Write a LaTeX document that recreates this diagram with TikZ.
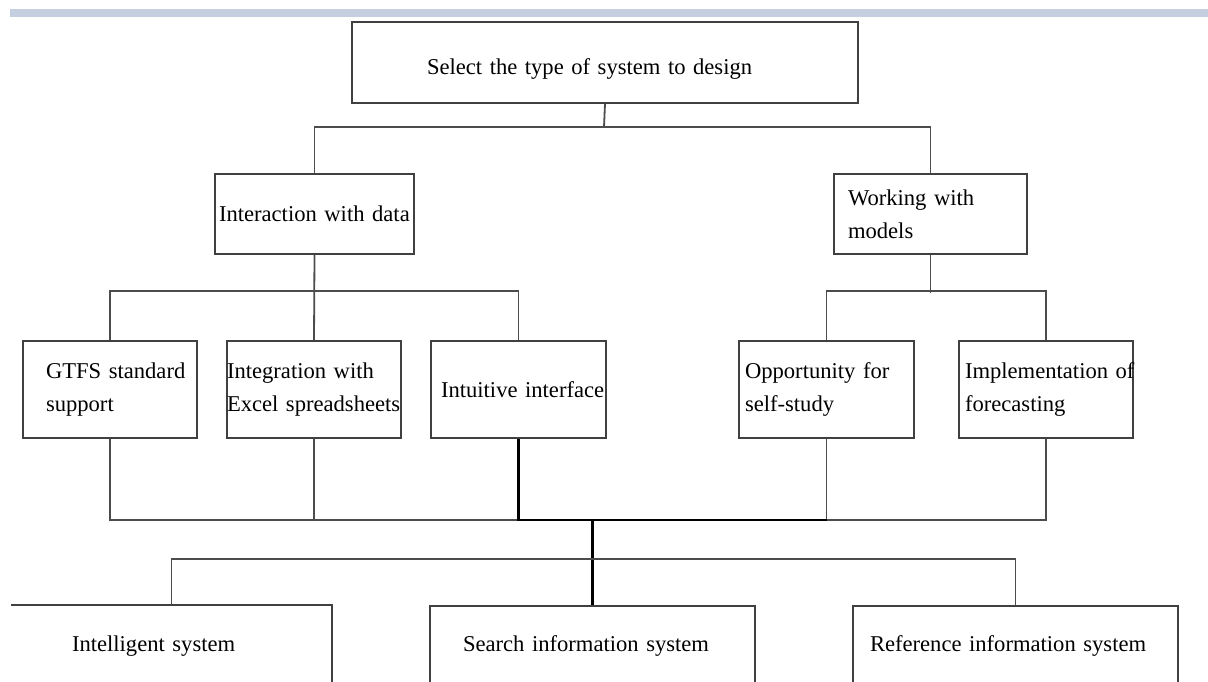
\documentclass[tikz,border=0pt]{standalone}
\usepackage{fontspec}
\setmainfont{Liberation Serif}
\usetikzlibrary{positioning}
\definecolor{bandblue}{RGB}{197,207,224}
\hyphenpenalty=10000
\exhyphenpenalty=10000

\begin{document}
\begin{tikzpicture}[x=1pt, y=-1pt,
  every node/.style={font=\fontsize{22.6}{33}\selectfont},
  boxline/.style={draw=black!75, line width=2pt},
  sysbox/.style={boxline, align=left, inner ysep=0pt, anchor=north west},
  link/.style={draw=black!70, line width=1.8pt},
  mainlink/.style={draw=black, line width=2.8pt}]
\useasboundingbox (0,0) rectangle (1208,681);
\clip (0,0) rectangle (1208,681);
\fill[bandblue] (10,9) rectangle (1208,17);
\node[sysbox, text width=356pt, inner xsep=75pt, minimum height=81pt] (sel) at (351,21) {\rule{0pt}{28pt}Select the type of system to design};
\node[sysbox, text width=191pt, inner xsep=4pt, minimum height=80pt] (inter) at (214,173) {Interaction~with~data};
\node[sysbox, text width=165pt, inner xsep=14pt, minimum height=80pt] (work) at (833,173) {Working~with\\models};
\node[sysbox, text width=128pt, inner xsep=23pt, minimum height=97pt] (gtfs) at (22,340) {GTFS~standard\\support};
\node[sysbox, text width=174pt, inner xsep=0pt, minimum height=97pt] (integ) at (226,340) {Integration~with\\Excel~spreadsheets};
\node[sysbox, text width=155pt, inner xsep=10pt, minimum height=97pt] (intui) at (430,340) {Intuitive~interface};
\node[sysbox, text width=163pt, inner xsep=6pt, minimum height=97pt] (oppo) at (738,340) {Opportunity~for\\self-study};
\node[sysbox, text width=162pt, inner xsep=6pt, minimum height=97pt] (impl) at (958,340) {Implementation~of\\forecasting};
\node[sysbox, draw=none, text width=199pt, inner xsep=60pt, minimum height=80pt] (intel) at (11,605) {Intelligent~system};
\node[sysbox, text width=259pt, inner xsep=33pt, minimum height=80pt] (search) at (429,605) {Search~information~system};
\node[sysbox, text width=291pt, inner xsep=17pt, minimum height=80pt] (ref) at (852,605) {Reference~information~system};
\draw[boxline] (intel.north west) -- (intel.north east) -- (intel.south east);
\coordinate (j1) at (604,127);
\draw[link] (sel.south) -- (j1);
\draw[link] (inter.north) |- (j1) -| (work.north);
\draw[link] (inter.south) -- (integ.north);
\draw[link] (gtfs.north) -- ++(0,-49) -| (intui.north);
\draw[link] (work.south) -- ++(0,38);
\draw[link] (oppo.north) -- ++(0,-49) -| (impl.north);
\draw[link] (gtfs.south) -- ++(0,81) -| (impl.south);
\draw[link] (integ.south) -- ++(0,81);
\draw[link] (oppo.south) -- ++(0,81);
\draw[mainlink] (intui.south) -- ++(0,81) coordinate (j5) -- (j5 -| oppo.south);
\draw[mainlink] (j5 -| search.north) -- (search.north);
\draw[link] (intel.north) -- ++(0,-46) -| (ref.north);
\end{tikzpicture}
\end{document}
